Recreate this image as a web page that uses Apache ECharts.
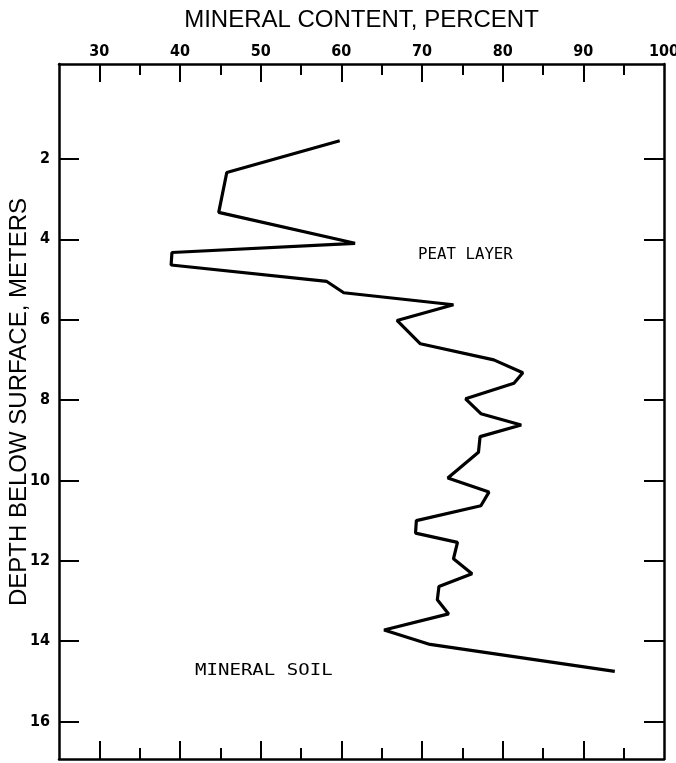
<!DOCTYPE html>
<html>
<head>
<meta charset="utf-8">
<script src="https://cdn.jsdelivr.net/npm/echarts@6/dist/echarts.min.js"></script>
<style>html,body{margin:0;padding:0;background:#fff;}#c{width:676px;height:763px;}</style>
</head>
<body>
<div id="c"></div>
<script>
// Mineral content (percent) vs depth below surface (meters)
var mineralContent = [59.8, 45.8, 44.8, 61.7, 39.0, 38.9, 58.2, 60.3, 73.9, 66.9, 69.8, 78.9, 82.5, 81.4, 75.4, 77.3, 82.3, 77.2, 77.0, 73.2, 78.3, 77.3, 69.3, 69.2, 74.4, 73.9, 76.2, 72.1, 71.9, 73.3, 65.3, 71.0, 93.9];
var depthM = [1.55, 2.34, 3.33, 4.10, 4.33, 4.64, 5.05, 5.33, 5.63, 6.02, 6.60, 7.00, 7.32, 7.58, 7.97, 8.34, 8.62, 8.91, 9.30, 9.94, 10.29, 10.63, 11.00, 11.31, 11.54, 11.95, 12.32, 12.64, 12.97, 13.32, 13.72, 14.08, 14.75];
var xLabelTicks = [30, 40, 50, 60, 70, 80, 90, 100];
var xMajorTicks = [30, 40, 50, 60, 70, 80, 90];
var xMinorTicks = [35, 45, 55, 65, 75, 85, 95];
var yTicks = [2, 4, 6, 8, 10, 12, 14, 16];
var xTitle = 'MINERAL CONTENT, PERCENT';
var yTitle = 'DEPTH BELOW SURFACE, METERS';
var annotations = [
  {text: 'PEAT LAYER', x: 418, y: 255, sx: 1.05},
  {text: 'MINERAL SOIL', x: 195, y: 671, sx: 1.27}
];

var tickFont = {fontFamily: "'DejaVu Sans Condensed', 'Liberation Sans Narrow', sans-serif", fontWeight: 'bold', fontSize: 16, color: '#000'};
var lineStyle = {color: '#000', width: 2.5};

function xAxisDef(pos, ticks, len, showLine, labels, name) {
  var a = {
    type: 'value', position: pos, min: 25, max: 100,
    axisLine: {show: showLine, lineStyle: lineStyle, onZero: false},
    axisTick: {show: true, inside: true, length: len, customValues: ticks, lineStyle: {color: '#000', width: 2}},
    axisLabel: {show: !!labels},
    splitLine: {show: false}
  };
  if (labels) {
    a.axisLabel = Object.assign({show: true, customValues: labels, margin: 4}, tickFont);
  }
  if (name) {
    a.name = name; a.nameLocation = 'middle'; a.nameGap = 32;
    a.nameTextStyle = {fontFamily: "'Liberation Sans', Arial, sans-serif", fontSize: 24, color: '#000'};
  }
  return a;
}
function yAxisDef(pos, labels) {
  var a = {
    type: 'value', position: pos, inverse: true, min: -0.36, max: 16.93,
    axisLine: {show: true, lineStyle: lineStyle, onZero: false},
    axisTick: {show: true, inside: true, length: 20, customValues: yTicks, lineStyle: {color: '#000', width: 2}},
    axisLabel: {show: false},
    splitLine: {show: false}
  };
  if (labels) a.axisLabel = Object.assign({show: true, customValues: yTicks, margin: 9}, tickFont);
  return a;
}

var data = mineralContent.map(function (v, i) { return [v, depthM[i]]; });

var graphics = annotations.map(function (a) {
  return {type: 'text', x: a.x, y: a.y, scaleX: a.sx, style: {text: a.text, font: "15px 'DejaVu Sans Mono', monospace", fill: '#000', verticalAlign: 'middle'}};
});
graphics.push({type: 'text', x: 19, y: 402, rotation: Math.PI / 2,
  style: {text: yTitle, font: "24px 'Liberation Sans', Arial, sans-serif", fill: '#000', align: 'center', verticalAlign: 'middle'}});

var chart = echarts.init(document.getElementById('c'), null, {renderer: 'canvas'});
chart.setOption({
  animation: false,
  backgroundColor: '#fff',
  grid: {left: 59, right: 12, top: 64, bottom: 4, containLabel: false, outerBoundsMode: 'none'},
  xAxis: [
    xAxisDef('top', xMajorTicks, 18, true, xLabelTicks, xTitle),
    xAxisDef('top', xMinorTicks, 11, false, null, null),
    xAxisDef('bottom', xMajorTicks, 18, true, null, null),
    xAxisDef('bottom', xMinorTicks, 11, false, null, null)
  ],
  yAxis: [
    yAxisDef('left', true),
    yAxisDef('right', false)
  ],
  series: [{
    type: 'line', xAxisIndex: 0, yAxisIndex: 0, data: data,
    symbol: 'none', lineStyle: {color: '#000', width: 3.2}, silent: true
  }],
  graphic: graphics
});
</script>
</body>
</html>
